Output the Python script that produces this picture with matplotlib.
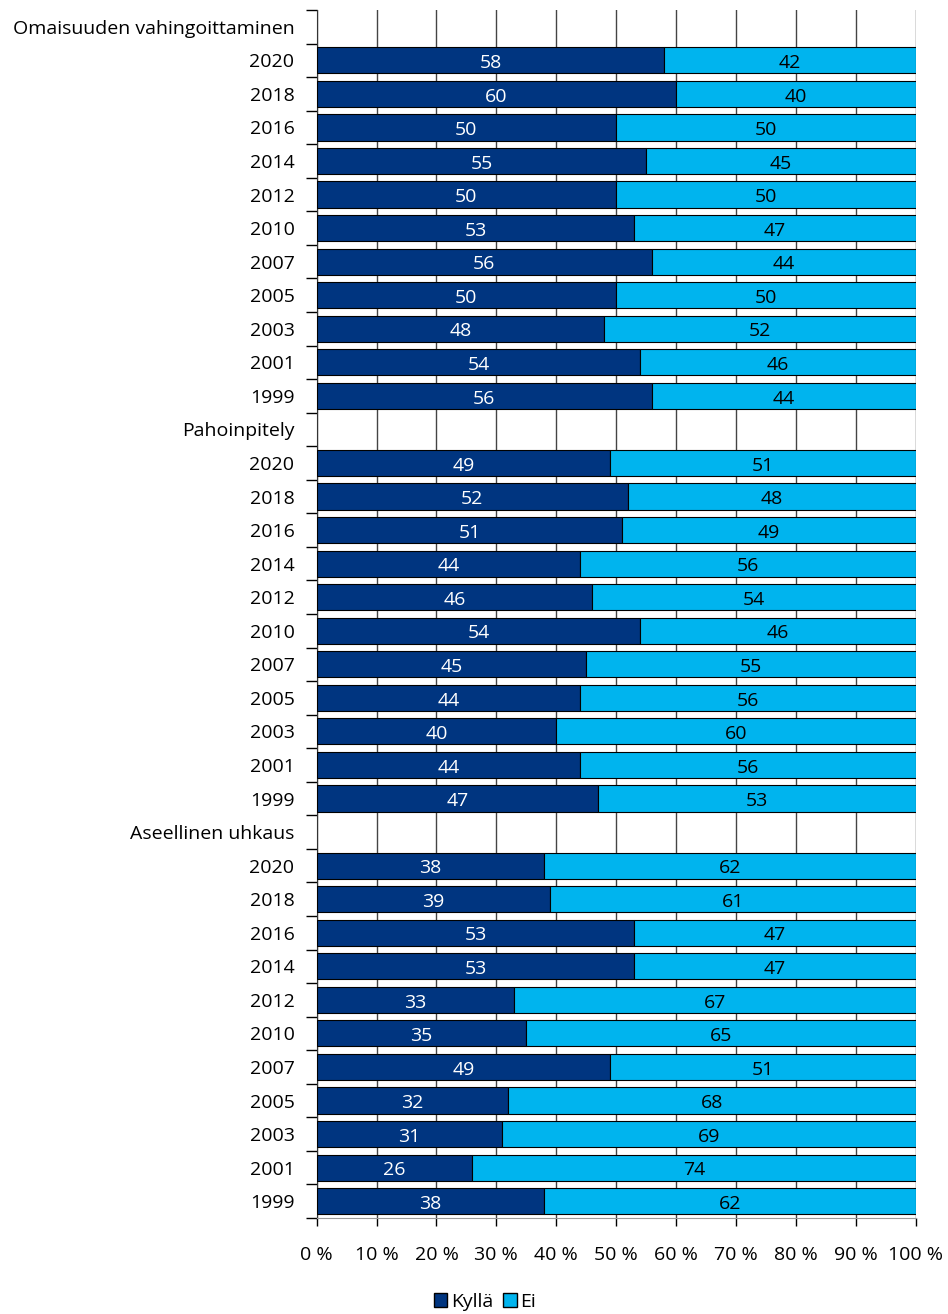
import matplotlib.pyplot as plt
from matplotlib.patches import Patch
import numpy as np

plt.rcParams['font.family'] = ['Open Sans', 'DejaVu Sans']

groups = ['Omaisuuden vahingoittaminen', 'Pahoinpitely', 'Aseellinen uhkaus']
years = ['2020', '2018', '2016', '2014', '2012', '2010', '2007', '2005', '2003', '2001', '1999']
kylla = [
    [58, 60, 50, 55, 50, 53, 56, 50, 48, 54, 56],
    [49, 52, 51, 44, 46, 54, 45, 44, 40, 44, 47],
    [38, 39, 53, 53, 33, 35, 49, 32, 31, 26, 38],
]
ei = [
    [42, 40, 50, 45, 50, 47, 44, 50, 52, 46, 44],
    [51, 48, 49, 56, 54, 46, 55, 56, 60, 56, 53],
    [62, 61, 47, 47, 67, 65, 51, 68, 69, 74, 62],
]
dark = '#003580'
light = '#00B4EE'
fs = 14

fig = plt.figure(figsize=(9.48, 13.14), dpi=100)
ax = fig.add_axes([0.334, 0.0731, 0.632, 0.9193])

labels = []
pos = 0
for g in range(len(groups)):
    labels.append(groups[g])
    pos += 1
    for i, yr in enumerate(years):
        k = kylla[g][i]
        e = ei[g][i]
        ax.barh(pos, k, height=0.78, color=dark, edgecolor='black', linewidth=0.8, zorder=3)
        ax.barh(pos, e, left=k, height=0.78, color=light, edgecolor='black', linewidth=0.8, zorder=3)
        ax.text(k / 2, pos + 0.08, str(k), color='white', ha='center', va='center', fontsize=fs, zorder=4)
        ax.text(k + e / 2, pos + 0.08, str(e), color='black', ha='center', va='center', fontsize=fs, zorder=4)
        labels.append(yr)
        pos += 1

n = len(labels)
ax.set_ylim(n - 0.5, -0.5)
ax.set_xlim(0, 100)
ax.set_yticks(np.arange(n))
ax.set_yticklabels(labels, fontsize=fs)
ax.set_yticks(np.arange(n + 1) - 0.5, minor=True)
ax.tick_params(axis='y', which='major', length=0, pad=16)
ax.tick_params(axis='y', which='minor', length=8, width=1, direction='out')
ax.set_xticks(np.arange(0, 101, 10))
ax.set_xticklabels([f'{v} %' for v in range(0, 101, 10)], fontsize=fs)
ax.tick_params(axis='x', length=6, width=1, pad=14, direction='out')
ax.xaxis.grid(True, color='#444444', linewidth=1, zorder=0)
ax.set_axisbelow(True)
for s in ['top', 'right']:
    ax.spines[s].set_visible(False)
ax.spines['left'].set_color('#333333')
ax.spines['bottom'].set_color('#999999')

handles = [Patch(facecolor=dark, edgecolor='black', label='Kyllä'),
           Patch(facecolor=light, edgecolor='black', label='Ei')]
fig.legend(handles=handles, loc='center', bbox_to_anchor=(485 / 948, 1 - 1302 / 1314), ncol=2,
           frameon=False, fontsize=fs, handlelength=0.7, handleheight=0.7,
           handletextpad=0.2, columnspacing=0.5)

fig.savefig('out.png', dpi=100)
